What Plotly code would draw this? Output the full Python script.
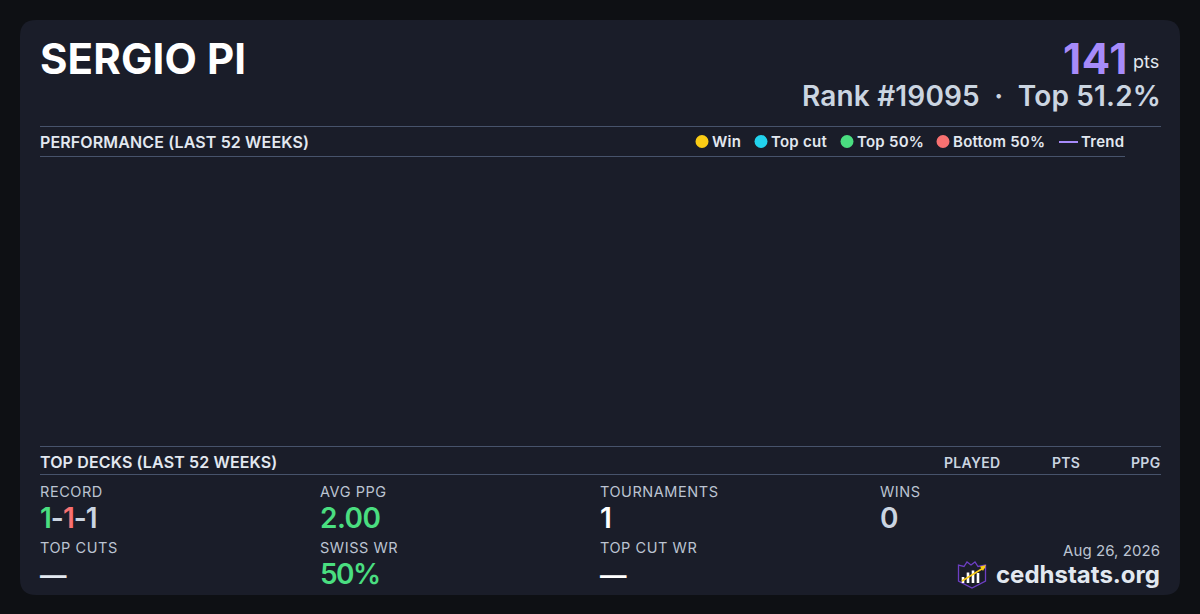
import plotly.graph_objects as go

W, H = 1200, 614
PAGE_BG = "#0e1014"
CARD_BG = "#1a1d29"
RULE = "#47536b"
WHITE = "#ffffff"
LIGHT = "#e2e8f0"
MUTED = "#cbd5e1"
LABEL = "#bcc4d2"
PURPLE = "#a78bfa"
GREEN = "#4ade80"
RED = "#f87171"
FONT = "Inter"

legend_labels = ["Win", "Top cut", "Top 50%", "Bottom 50%"]
legend_colors = ["#facc15", "#22d3ee", "#4ade80", "#f87171"]
legend_dot_x = [702, 761, 847, 943]
stat_labels = ["RECORD", "AVG PPG", "TOURNAMENTS", "WINS", "TOP CUTS", "SWISS WR", "TOP CUT WR"]
stat_x = [40, 320, 600, 880, 40, 320, 600]
stat_y = [491, 491, 491, 491, 547, 547, 547]
deck_columns = ["PLAYED", "PTS", "PPG"]
deck_column_right = [1000, 1080, 1160]

fx = lambda x: x / W
fy = lambda y: 1 - y / H

ann = []
def text(x, y, s, size, color, weight=400, anchor="left", spacing=None):
    x = x - 1 if anchor == "left" else x + 1
    if spacing is not None:
        s = f'<span style="letter-spacing:{spacing}px">{s}</span>'
    ann.append(dict(x=fx(x), y=fy(y), xref="paper", yref="paper", text=s, showarrow=False,
                    xanchor=anchor, yanchor="middle", align=anchor,
                    borderpad=0, font=dict(family=FONT, size=size, color=color, weight=weight)))

shapes = []
def px_path(points, close=False, **kw):
    d = "M" + " L".join(f"{fx(x):.5f},{fy(y):.5f}" for x, y in points) + (" Z" if close else "")
    shapes.append(dict(type="path", xref="paper", yref="paper", path=d, **kw))

def hline(x0, x1, y, color=RULE, width=1):
    shapes.append(dict(type="line", xref="paper", yref="paper", x0=fx(x0), x1=fx(x1),
                       y0=fy(y), y1=fy(y), line=dict(color=color, width=width)))

# card with rounded corners
r, l, t, rr, b = 16, 20, 20, 1180, 595
d = (f"M{fx(l+r)},{fy(t)} L{fx(rr-r)},{fy(t)} Q{fx(rr)},{fy(t)} {fx(rr)},{fy(t+r)} "
     f"L{fx(rr)},{fy(b-r)} Q{fx(rr)},{fy(b)} {fx(rr-r)},{fy(b)} L{fx(l+r)},{fy(b)} "
     f"Q{fx(l)},{fy(b)} {fx(l)},{fy(b-r)} L{fx(l)},{fy(t+r)} Q{fx(l)},{fy(t)} {fx(l+r)},{fy(t)} Z")
shapes.append(dict(type="path", xref="paper", yref="paper", path=d, fillcolor=CARD_BG, line=dict(width=0), layer="below"))

# rules
hline(40, 1161, 126.5)
hline(40, 1125, 156.5)
hline(40, 1161, 446.5)
hline(40, 1161, 474.5)

# header
text(40, 58, "SERGIO PI", 42, WHITE, 700, spacing=0.1)
text(1128, 58, "141", 42, PURPLE, 700, "right", 0.7)
text(1159, 61, "pts", 18, LIGHT, 400, "right")
text(1160.5, 96, "Rank #19095  ·  Top 51.2%", 28, MUTED, 600, "right", 0.16)

# section titles
text(40, 142, "PERFORMANCE (LAST 52 WEEKS)", 16, LIGHT, 600, spacing=0.13)
text(40, 462, "TOP DECKS (LAST 52 WEEKS)", 16, LIGHT, 600, spacing=0.13)
for c, x in zip(deck_columns, deck_column_right):
    text(x, 462, c, 14, MUTED, 600, "right", 0.3)

# legend
for lab, col, x in zip(legend_labels, legend_colors, legend_dot_x):
    shapes.append(dict(type="circle", xref="paper", yref="paper", x0=fx(x-6.5), x1=fx(x+6.5),
                       y0=fy(141.5+6.5), y1=fy(141.5-6.5), fillcolor=col, line=dict(width=0)))
    text(x + 10, 141.5, lab, 15, LIGHT, 600, spacing=0.25)
hline(1059, 1078, 142, PURPLE, 2)
text(1081, 141.5, "Trend", 15, LIGHT, 600, spacing=0.25)

# stats
for s, x, y in zip(stat_labels, stat_x, stat_y):
    text(x, y, s, 14.5, LABEL, 400, spacing=0.55)
text(40, 518, f'<span style="color:{GREEN}">1</span><span style="color:{MUTED}">-</span>'
              f'<span style="color:{RED}">1</span><span style="color:{MUTED}">-1</span>', 28, MUTED, 600, spacing=-1)
text(320, 518, "2.00", 28, GREEN, 600, spacing=-0.5)
text(600, 518, "1", 28, WHITE, 600)
text(880, 518, "0", 28, MUTED, 600)
text(40, 575, "—", 26.5, LIGHT, 600)
text(320, 574, "50%", 28, GREEN, 600, spacing=-1.5)
text(600, 575, "—", 26.5, WHITE, 600)

# footer
text(1160, 550, "Aug 26, 2026", 15, LABEL, 400, "right", 0.08)
text(1159.5, 574, "cedhstats.org", 24, LIGHT, 700, "right")

# logo
px_path([(958.5,565),(964,566.5),(967,562),(971,565),(975,562),(978,566.5),(985.5,565),(985.5,581),(972,588),(958.5,581)],
        close=True, fillcolor="rgba(0,0,0,0)", line=dict(color="#6d3fc4", width=1.3))
for x, top in [(963,577),(968,572.5),(973,570.5),(978,573)]:
    px_path([(x-1.3,top),(x+1.3,top),(x+1.3,583),(x-1.3,583)], close=True, fillcolor=WHITE, line=dict(width=0))
px_path([(962,581),(985,567)], line=dict(color="#facc15", width=1.5))
px_path([(986,565),(980,566.5),(983,571)], close=True, fillcolor="#facc15", line=dict(width=0))

fig = go.Figure()
fig.update_layout(width=W, height=H, margin=dict(l=0, r=0, t=0, b=0), autosize=False,
                  paper_bgcolor=PAGE_BG, plot_bgcolor=PAGE_BG, showlegend=False,
                  xaxis=dict(visible=False), yaxis=dict(visible=False),
                  shapes=shapes, annotations=ann)
fig.write_html("out.html", config={"displayModeBar": False},
               post_script="document.body.style.margin='0';document.body.style.background='#0e1014';document.documentElement.style.overflow='hidden';")
